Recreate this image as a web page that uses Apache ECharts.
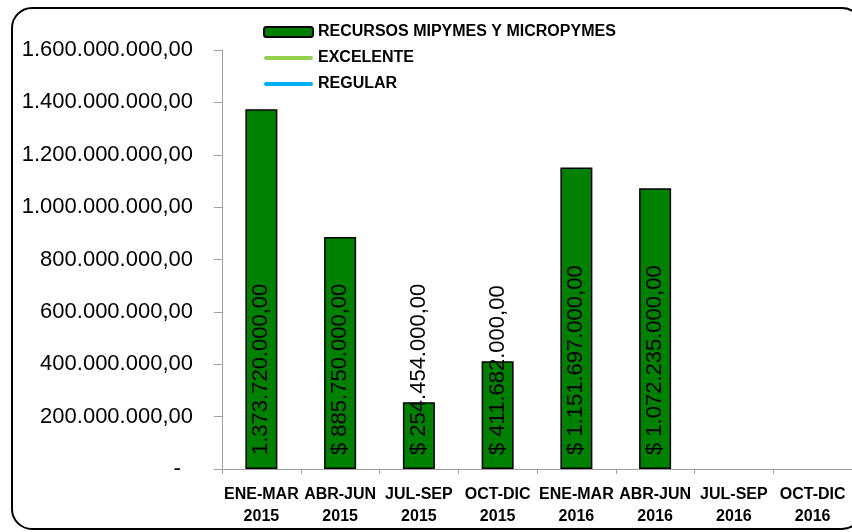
<!DOCTYPE html>
<html>
<head>
<meta charset="utf-8">
<script src="https://cdn.jsdelivr.net/npm/echarts@6/dist/echarts.min.js"></script>
<style>
html,body{margin:0;padding:0;background:#fff;}
#chart{width:852px;height:532px;}
</style>
</head>
<body>
<div id="chart"></div>
<script>
var categories = ['ENE-MAR\n2015','ABR-JUN\n2015','JUL-SEP\n2015','OCT-DIC\n2015','ENE-MAR\n2016','ABR-JUN\n2016','JUL-SEP\n2016','OCT-DIC\n2016'];
var recursos = [1373720000, 885750000, 254454000, 411682000, 1151697000, 1072235000, null, null];
var barLabels = ['1.373.720.000,00','$ 885.750.000,00','$ 254.454.000,00','$ 411.682.000,00','$ 1.151.697.000,00','$ 1.072.235.000,00','',''];
var excelente = [];
var regular = [];
var yMin = 0, yMax = 1600000000, yStep = 200000000;

function fmtNum(v){
  if (v === 0) return '-  ';
  var s = Math.round(v).toString();
  var out = '';
  while (s.length > 3){ out = '.' + s.slice(-3) + out; s = s.slice(0, -3); }
  return s + out + ',00';
}

var FONT = "'Liberation Sans', Arial, sans-serif";
var LINE_ICON = 'path://M2,0L47,0A2,2,0,0,1,47,4L2,4A2,2,0,0,1,2,0Z';
var chart = echarts.init(document.getElementById('chart'), null, {renderer:'canvas'});
chart.setOption({
  animation: false,
  backgroundColor: '#fff',
  textStyle: {fontFamily: FONT},
  graphic: [{
    type: 'rect', silent: true,
    shape: {x: 12, y: 8, width: 850, height: 521, r: 20},
    style: {fill: 'none', stroke: '#000', lineWidth: 2}
  }],
  legend: {
    orient: 'vertical', left: 263, top: 24, padding: 0,
    itemWidth: 49, itemHeight: 10, itemGap: 10,
    textStyle: {fontFamily: FONT, fontWeight: 'bold', fontSize: 16, color: '#000', lineHeight: 16},
    data: [
      {name: 'RECURSOS MIPYMES Y MICROPYMES'},
      {name: 'EXCELENTE', icon: LINE_ICON},
      {name: 'REGULAR', icon: LINE_ICON}
    ]
  },
  grid: {left: 222, top: 50, width: 638, height: 419},
  xAxis: {
    type: 'category', data: categories,
    axisLine: {lineStyle: {color: '#a0a0a0', width: 1}},
    axisTick: {show: true, length: 5, lineStyle: {color: '#a0a0a0'}},
    axisLabel: {interval: 0, margin: 15, fontFamily: FONT, fontWeight: 'bold', fontSize: 16, lineHeight: 22, color: '#000'}
  },
  yAxis: {
    type: 'value', min: yMin, max: yMax, interval: yStep,
    splitLine: {show: false},
    axisLine: {show: true, lineStyle: {color: '#a0a0a0', width: 1}},
    axisTick: {show: true, length: 8, lineStyle: {color: '#a0a0a0'}},
    axisLabel: {margin: 29, fontFamily: FONT, fontSize: 22, color: '#000', formatter: fmtNum}
  },
  series: [
    {
      name: 'RECURSOS MIPYMES Y MICROPYMES', type: 'bar', data: recursos, barWidth: 32,
      itemStyle: {color: '#008000', borderColor: '#000', borderWidth: 1.5},
      label: {
        show: true, position: 'insideBottom', distance: 14, rotate: 90,
        align: 'left', verticalAlign: 'middle',
        fontFamily: FONT, fontSize: 22, color: '#000',
        formatter: function(p){ return barLabels[p.dataIndex]; }
      }
    },
    {name: 'EXCELENTE', type: 'line', data: excelente, symbol: 'none', lineStyle: {color: '#92D050', width: 4}, itemStyle: {color: '#92D050'}},
    {name: 'REGULAR', type: 'line', data: regular, symbol: 'none', lineStyle: {color: '#00B0F0', width: 4}, itemStyle: {color: '#00B0F0'}}
  ]
});
</script>
</body>
</html>
